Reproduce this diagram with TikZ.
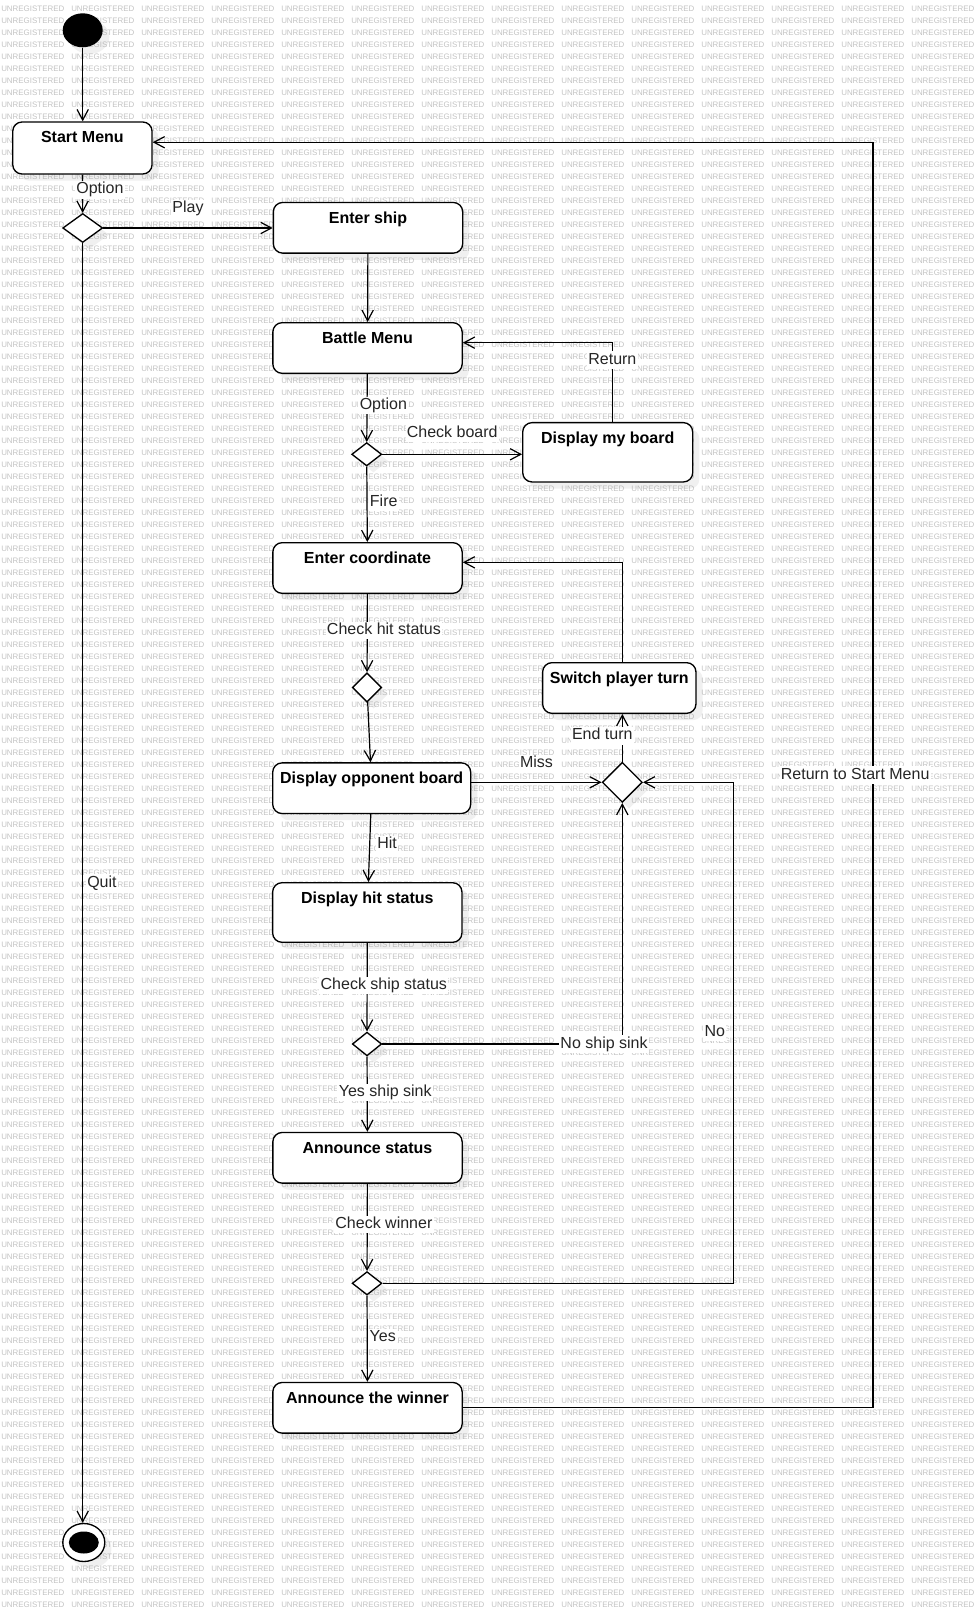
\documentclass[tikz,border=0pt]{standalone}
\usepackage{fontspec}
\setmainfont{Liberation Sans}
\usetikzlibrary{
  arrows.meta,
  positioning,
  shapes.geometric,
  shadows
}

\begin{document}
\begin{tikzpicture}[
  x=0.75pt, y=-0.75pt,
  every node/.style={font=\fontsize{12}{14}\selectfont},
  >={Straight Barb[length=8pt, width=8.5pt]},
  flow/.style={->, line width=0.9pt},
  shade/.style={drop shadow={shadow xshift=5pt, shadow yshift=-5pt, opacity=0.12}},
  act/.style={draw, line width=1pt, fill=white, rounded corners=7pt, inner sep=0pt,
    minimum width=142pt, minimum height=38pt, shade},
  acttext/.style={anchor=base, yshift=-16pt, inner sep=0pt,
    font=\fontsize{12}{14}\selectfont\bfseries},
  choice/.style={diamond, draw, line width=1pt, fill=white, inner sep=0pt, shade},
  lbl/.style={fill=white, inner sep=1pt, text=black!85, text height=8.5pt, text depth=2.5pt},
  wm/.style={anchor=west, inner sep=0pt, text=black!24, font=\fontsize{5.95}{7}\selectfont}
]

\useasboundingbox (0, 0) rectangle (978, 1612);

% Watermark
\foreach \c in {0,...,13}
  \foreach \r in {0,...,133}
    \node[wm] (wm-\c-\r) at (70*\c+1, 9+12*\r) {UNREGISTERED};

% Start
\node[ellipse, fill=black, inner sep=0pt, minimum width=30pt, minimum height=25.5pt, shade]
  (init) at (82.7, 30.3) {};
\node[act, minimum width=104.5pt, minimum height=39pt,
      label={[acttext]north:Start Menu}] (startmenu) at (82.4, 148) {};
\node[choice, minimum width=30pt, minimum height=21.75pt] (menuopt) at (82.7, 228) {};

% Battle
\node[act, label={[acttext]north:Enter ship}] (entership) at (368, 227.8) {};
\node[act, label={[acttext]north:Battle Menu}] (battle) at (367.5, 348) {};
\node[choice, minimum width=22.5pt, minimum height=17.5pt] (battleopt) at (366.7, 454.3) {};
\node[act, minimum width=127.5pt, minimum height=44.5pt,
      label={[acttext]north:Display my board}] (myboard) at (607.7, 452.3) {};
\node[act, label={[acttext]north:Enter coordinate}] (coord) at (367.5, 568) {};
\node[choice, minimum width=22pt, minimum height=22pt] (hitcheck) at (367, 687.5) {};
\node[act, minimum width=115pt,
      label={[acttext]north:Switch player turn}] (switchturn) at (619.3, 688) {};
\node[act, minimum width=148.5pt,
      label={[acttext]north:Display opponent board}] (oppboard) at (371.7, 788.2) {};
\node[choice, minimum width=30pt, minimum height=30pt] (turnmerge) at (622.3, 782.3) {};

% Hit
\node[act, minimum height=44.7pt,
      label={[acttext]north:Display hit status}] (hitstatus) at (367.3, 912.5) {};
\node[choice, minimum width=22pt, minimum height=17.8pt] (shipcheck) at (367, 1044) {};
\node[act, label={[acttext]north:Announce status}] (announce) at (367.5, 1157.8) {};
\node[choice, minimum width=22.3pt, minimum height=17.5pt] (wincheck) at (367, 1283.3) {};
\node[act, label={[acttext]north:Announce the winner}] (winner) at (367.5, 1407.8) {};

% End
\node[ellipse, draw, line width=1pt, fill=white, inner sep=0pt,
      minimum width=31.5pt, minimum height=28.5pt, shade] (final) at (83.8, 1542.5) {};
\node[ellipse, fill=black, inner sep=0pt, minimum width=22.5pt, minimum height=16.5pt]
  (finaldot) at (final.center) {};

% Connectors
\draw[flow] (init.south) -- (init.south |- startmenu.north);
\draw[flow] (startmenu) -- (menuopt)
  node[lbl, pos=0.4, xshift=13pt] {Option};
\draw[flow] (menuopt.east) -- (menuopt.east -| entership.west)
  node[lbl, midway, yshift=14.25pt] {Play};
\draw[flow] (menuopt.south) -- (menuopt.south |- final.north)
  node[lbl, pos=0.5, anchor=west, xshift=2pt] {Quit};

\draw[flow] (entership) -- (battle);
\draw[flow] (battle) -- (battleopt)
  node[lbl, pos=0.46, xshift=12.2pt] {Option};
\draw[flow] (battleopt.east) -- (battleopt.east -| myboard.west)
  node[lbl, midway, yshift=15.5pt] {Check board};
\draw[flow] ([xshift=3.5pt]myboard.north) |- ([yshift=4pt]battle.east)
  node[lbl, pos=0.39] {Return};
\draw[flow] (battleopt) -- (coord)
  node[lbl, pos=0.47, xshift=12.5pt] {Fire};

\draw[flow] (coord) -- (hitcheck)
  node[lbl, pos=0.47, xshift=12.5pt] {Check hit status};
\draw[flow] (hitcheck) -- (oppboard);
\draw[flow] (turnmerge.west -| oppboard.east) -- (turnmerge.west)
  node[lbl, midway, yshift=14.25pt] {Miss};
\draw[flow] (turnmerge.north) -- (turnmerge.north |- switchturn.south)
  node[lbl, pos=0.54, xshift=-15pt] {End turn};
\draw[flow] (turnmerge.north |- switchturn.north) |- ([yshift=4.25pt]coord.east);

\draw[flow] (oppboard) -- (hitstatus)
  node[lbl, pos=0.45, xshift=13pt] {Hit};
\draw[flow] (hitstatus) -- (shipcheck)
  node[lbl, pos=0.48, xshift=12.5pt] {Check ship status};
\draw[flow] (shipcheck.east) -| (turnmerge.south)
  node[lbl, pos=0.462] {No ship sink};
\draw[flow] (shipcheck) -- (announce)
  node[lbl, pos=0.476, xshift=13.5pt] {Yes ship sink};
\draw[flow] (announce) -- (wincheck)
  node[lbl, pos=0.47, xshift=12.5pt] {Check winner};
\draw[flow] (wincheck.east) -- ++(351, 0) |- (turnmerge.east)
  node[lbl, pos=0.25, xshift=-14pt] {No};
\draw[flow] (wincheck) -- (winner)
  node[lbl, pos=0.49, xshift=11.6pt] {Yes};
\draw[flow] (winner.east) -- ++(410.2, 0) |- ([yshift=4.3pt]startmenu.east)
  node[lbl, pos=0.25, xshift=-13.4pt] {Return to Start Menu};

\end{tikzpicture}
\end{document}
